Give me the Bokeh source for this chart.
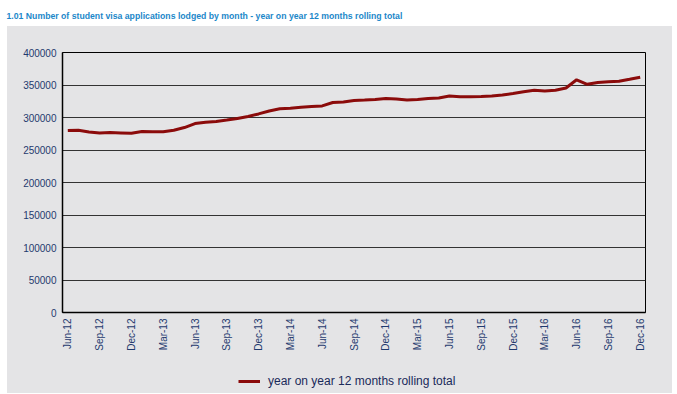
import math
from bokeh.plotting import figure
from bokeh.models import (Range1d, FixedTicker, NumeralTickFormatter, Legend, LegendItem,
                          Label, ColumnDataSource, Spacer)
from bokeh.layouts import column, row
from bokeh.embed import file_html
from bokeh.resources import INLINE

# ---------------- data ----------------
title_text = "1.01 Number of student visa applications lodged by month - year on year 12 months rolling total"
series_name = "year on year 12 months rolling total"

# monthly values, Jun-12 .. Dec-16 (55 months)
rolling_total = [
    280000, 280300, 277800, 276300, 276800, 276300, 275700, 278300, 278000, 278000,
    280500, 284500, 290700, 292800, 294000, 296000, 298500, 301500, 305500, 310000,
    313400, 314200, 315800, 317000, 317800, 323000, 324000, 326000, 326800, 327800,
    329400, 328300, 326800, 327800, 329400, 330000, 333000, 332000, 332000, 332300,
    333000, 334500, 337000, 339700, 341800, 340700, 341800, 345400, 358000, 351000,
    354000, 355000, 355700, 358800, 362000,
]
month_index = list(range(len(rolling_total)))

tick_positions = [0, 3, 6, 9, 12, 15, 18, 21, 24, 27, 30, 33, 36, 39, 42, 45, 48, 51, 54]
tick_labels = ["Jun-12", "Sep-12", "Dec-12", "Mar-13", "Jun-13", "Sep-13", "Dec-13",
               "Mar-14", "Jun-14", "Sep-14", "Dec-14", "Mar-15", "Jun-15", "Sep-15",
               "Dec-15", "Mar-16", "Jun-16", "Sep-16", "Dec-16"]
y_ticks = [0, 50000, 100000, 150000, 200000, 250000, 300000, 350000, 400000]

# ---------------- style ----------------
PANEL = "#e4e4e6"
LINE = "#8b0b0b"
NAVY = "#1f3a6e"
FONT = "Liberation Sans"

# title strip
t = figure(width=677, height=26, x_range=(0, 1), y_range=(0, 1),
           toolbar_location=None, output_backend="svg",
           x_axis_type=None, y_axis_type=None, min_border=0)
t.outline_line_color = None
t.border_fill_color = "white"
t.background_fill_color = "white"
t.add_layout(Label(x=6, y=10.5, x_units="screen", y_units="screen", text=title_text,
                   text_font=FONT, text_font_style="bold",
                   text_font_size="8.7px", text_color="#1b87c9",
                   text_baseline="middle"))

# main chart
p = figure(width=665, height=340, toolbar_location=None, output_backend="svg",
           x_range=Range1d(-0.5, 54.5), y_range=Range1d(0, 400000),
           min_border_left=55, min_border_right=27, min_border_top=26, min_border_bottom=54)
p.border_fill_color = PANEL
p.background_fill_color = PANEL
p.outline_line_color = "black"
p.outline_line_width = 1

src = ColumnDataSource(dict(x=month_index, y=rolling_total))
p.line("x", "y", source=src, line_color=LINE, line_width=3)

p.xgrid.visible = False
p.ygrid.ticker = FixedTicker(ticks=y_ticks)
p.ygrid.grid_line_color = "#333333"
p.ygrid.grid_line_width = 1

p.yaxis.ticker = FixedTicker(ticks=y_ticks)
p.yaxis.formatter = NumeralTickFormatter(format="0")
p.xaxis.ticker = FixedTicker(ticks=tick_positions)
p.xaxis.major_label_overrides = {pos: lab for pos, lab in zip(tick_positions, tick_labels)}
p.xaxis.major_label_orientation = math.pi / 2

for ax in (p.xaxis[0], p.yaxis[0]):
    ax.axis_line_color = "black"
    ax.axis_line_width = 1.5
    ax.major_tick_line_color = None
    ax.minor_tick_line_color = None
    ax.major_tick_out = 0
    ax.major_tick_in = 0
    ax.major_label_text_font = FONT
    ax.major_label_text_font_size = "10px"
    ax.major_label_text_color = NAVY
    ax.major_label_standoff = 6

# legend strip (its line sits outside the strip's visible range; only the key shows)
lf = figure(width=665, height=27, x_range=Range1d(0, 1), y_range=Range1d(0, 1),
            toolbar_location=None, output_backend="svg",
            x_axis_type=None, y_axis_type=None, min_border=0)
lf.outline_line_color = None
lf.border_fill_color = PANEL
lf.background_fill_color = PANEL
lf.xgrid.visible = False
lf.ygrid.visible = False
key = lf.line("x", "y", source=src, line_color=LINE, line_width=3)
legend = Legend(items=[LegendItem(label=series_name, renderers=[key])],
                location=(176, 4), orientation="horizontal",
                border_line_color=None, background_fill_alpha=0,
                label_text_font=FONT, label_text_font_size="12px",
                label_text_color="#1a2a5a", glyph_width=22, glyph_height=16,
                label_height=16, label_standoff=8, padding=2, margin=0)
lf.add_layout(legend, "center")

panel = column(p, lf, spacing=0, styles={"background-color": PANEL})
layout = column(t,
                row(Spacer(width=7, height=367), panel, spacing=0),
                spacing=0)
open("out.html", "w").write(file_html(layout, INLINE))
